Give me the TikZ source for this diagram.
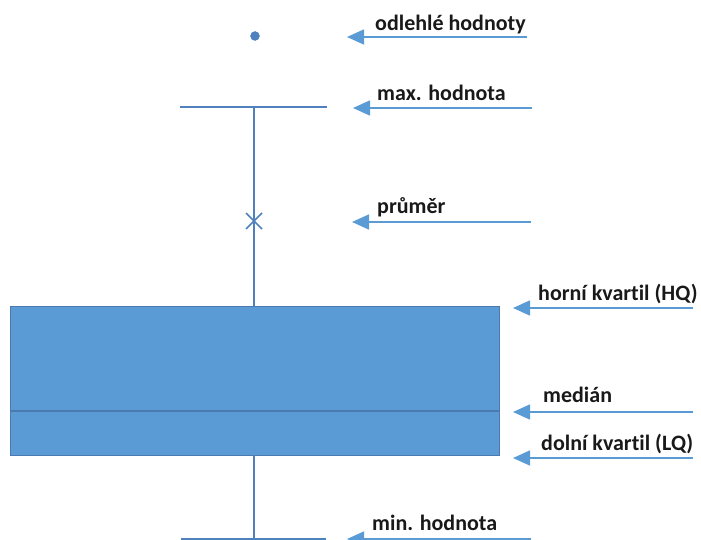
\documentclass[tikz,border=0pt]{standalone}
\usepackage{fontspec}
\setmainfont[Ligatures={NoCommon}]{Carlito}
\usetikzlibrary{arrows.meta,calc}
\definecolor{boxfill}{HTML}{5B9BD5}
\definecolor{boxline}{HTML}{4A7AAE}
\definecolor{whisk}{HTML}{4F81BD}
\definecolor{arr}{HTML}{5B9BD5}
\tikzset{
  lab/.style={anchor=base west, inner sep=0pt, font=\fontsize{22}{25}\selectfont\bfseries, text=black!90},
  pointer/.style={draw=arr, line width=1.6pt, -{Triangle[length=17pt,width=15pt]}},
  whisker/.style={draw=whisk, line width=1.8pt},
}
\begin{document}
\begin{tikzpicture}[x=1pt,y=-1pt]
\useasboundingbox (0,0) rectangle (701,540);
% box
\node[draw=boxline, fill=boxfill, line width=1.4pt, minimum width=489pt, minimum height=149pt, inner sep=0pt, anchor=north west] (box) at (10,306) {};
\draw[draw=boxline, line width=1.4pt] (10,411) -- (499,411);
% whiskers
\coordinate (maxL) at (180,107);
\coordinate (maxR) at (327,107);
\coordinate (maxC) at (254,107);
\coordinate (minL) at (181,539);
\coordinate (minR) at (326,539);
\coordinate (minC) at (254,539);
\draw[whisker] (maxL) -- (maxR);
\draw[whisker] (maxC) -- (254,306);
\draw[whisker] (254,455) -- (minC);
\draw[whisker] (minL) -- (minR);
% mean cross
\coordinate (mean) at (254,221);
\draw[whisker, line width=1.5pt] ($(mean)+(-8,-8)$) -- ($(mean)+(8,8)$);
\draw[whisker, line width=1.5pt] ($(mean)+(-8,8)$) -- ($(mean)+(8,-8)$);
% outlier
\node[circle, fill=whisk, draw=whisk, minimum size=9pt, inner sep=0pt] (out) at (255,36) {};
% labels
\node[lab] (t1) at (375,31) {odlehlé hodnoty};
\node[lab] (t2) at (377,101) {max. hodnota};
\node[lab] (t3) at (377,213) {průměr};
\node[lab] (t4) at (538,300) {horní kvartil (HQ)};
\node[lab] (t5) at (543,402) {medián};
\node[lab] (t6) at (541,450) {dolní kvartil (LQ)};
\node[lab] (t7) at (372,530) {min. hodnota};
% arrows
\coordinate (s1) at (527,37);  \coordinate (e1) at (347,37);
\coordinate (s2) at (532,108); \coordinate (e2) at (353,108);
\coordinate (s3) at (531,222); \coordinate (e3) at (352,222);
\coordinate (s4) at (693,308); \coordinate (e4) at (513,308);
\coordinate (s5) at (693,412); \coordinate (e5) at (513,412);
\coordinate (s6) at (693,458); \coordinate (e6) at (513,458);
\coordinate (s7) at (531,539); \coordinate (e7) at (347,539);
\foreach \i in {1,...,7} { \draw[pointer] (s\i) -- (e\i); }
\end{tikzpicture}
\end{document}
